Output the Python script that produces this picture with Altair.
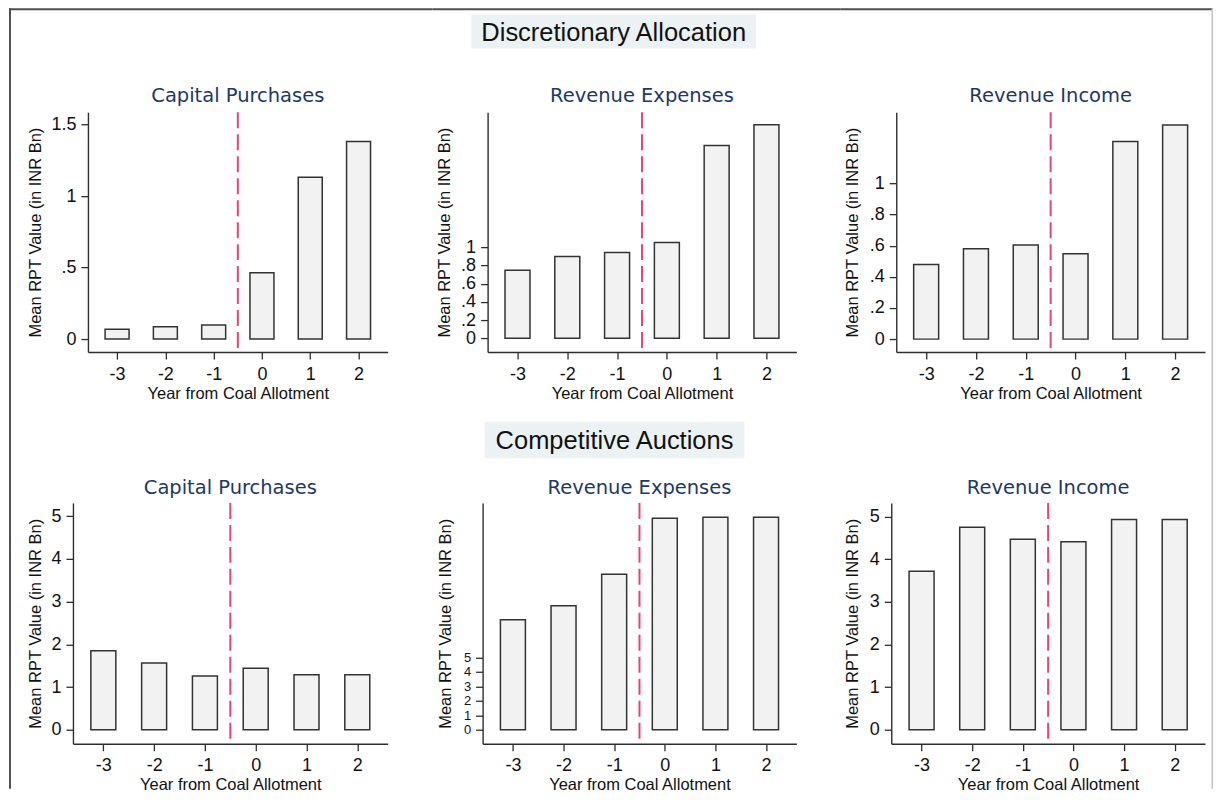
import altair as alt
import pandas as pd

# ---------------- data ----------------
years = [-3, -2, -1, 0, 1, 2]
section_titles = ["Discretionary Allocation", "Competitive Auctions"]
panel_titles = ["Capital Purchases", "Revenue Expenses", "Revenue Income"]
x_title = "Year from Coal Allotment"
y_title = "Mean RPT Value (in INR Bn)"

da_capital = [0.068, 0.086, 0.098, 0.463, 1.132, 1.381]
da_rev_exp = [0.75, 0.90, 0.945, 1.055, 2.12, 2.35]
da_rev_inc = [0.48, 0.58, 0.605, 0.548, 1.27, 1.376]
ca_capital = [1.85, 1.56, 1.26, 1.44, 1.29, 1.29]
ca_rev_exp = [7.6, 8.57, 10.76, 14.63, 14.70, 14.70]
ca_rev_inc = [3.72, 4.75, 4.47, 4.41, 4.93, 4.93]

ticks_da_capital = [0, 0.5, 1, 1.5]
ticks_da_rev = [0, 0.2, 0.4, 0.6, 0.8, 1]
ticks_ca = [0, 1, 2, 3, 4, 5]

event_line = [-0.5]

# ---------------- style ----------------
AXC = "#2e2e2e"
BAR_FILL = "#f2f2f2"
BAR_STROKE = "#333333"
DASH = "#e2457a"
TITLE_C = "#1a3966"
HEAD_BG = "#eaf2f3"
BORDER = "#505050"
LIGHT = "#c4c4c4"
WHITE = "#ffffff"
FONT = "Liberation Sans"

LABEL_EXPR = ("slice(toString(datum.value),0,2)=='0.' ? "
              "slice(toString(datum.value),1) : toString(datum.value)")

one = pd.DataFrame({"k": [0]})


def box(x1, x2, y1, y2, color):
    """Filled strip (frame line / layout guide), no stroke."""
    return alt.Chart(one).mark_rect(fill=color, strokeWidth=0).encode(
        x=alt.value(x1), x2=alt.value(x2), y=alt.value(y1), y2=alt.value(y2))


def panel(values, title, yticks, ydom, w, h, ytx, title_y, extras, ylab_size=18):
    df = pd.DataFrame({"year": years, "value": values})
    bars = alt.Chart(df).mark_bar(
        size=round(w * 0.08), fill=BAR_FILL, stroke=BAR_STROKE, strokeWidth=1.5
    ).encode(
        x=alt.X("year:Q",
                scale=alt.Scale(domain=[-3.5, 2.5], nice=False, zero=False),
                axis=alt.Axis(values=years, labelExpr="toString(datum.value)",
                              title=x_title, titleY=41, titleBaseline="middle",
                              labelPadding=6)),
        y=alt.Y("value:Q",
                scale=alt.Scale(domain=ydom, nice=False, zero=False),
                axis=alt.Axis(values=yticks, labelExpr=LABEL_EXPR, title=y_title,
                              titleX=ytx, titleY=h / 2, titleAngle=270,
                              titleBaseline="middle", titleAlign="center",
                              labelPadding=5, labelFontSize=ylab_size)),
        y2=alt.datum(0),
    )
    vline = alt.Chart(pd.DataFrame({"x": event_line})).mark_rule(
        color=DASH, strokeWidth=2, strokeDash=[16, 6]
    ).encode(x="x:Q", y=alt.value(0), y2=alt.value(h))
    ttl = alt.Chart(one).mark_text(
        text=title, font="DejaVu Sans", fontSize=19.5, color=TITLE_C,
        align="center", baseline="middle"
    ).encode(x=alt.value(w / 2), y=alt.value(title_y))
    layers = list(extras) + [bars, vline, ttl]
    return alt.layer(*layers).properties(width=w, height=h)


def header(text, x1, x2, y1, y2):
    bg = box(x1, x2, y1, y2, HEAD_BG)
    txt = alt.Chart(one).mark_text(
        text=text, font=FONT, fontSize=25.5, color="#111111",
        align="center", baseline="middle"
    ).encode(x=alt.value((x1 + x2) / 2), y=alt.value((y1 + y2) / 2 + 1))
    return [bg, txt]


def spacer():
    return box(0, 1, 0, 1, WHITE).properties(width=1, height=1)


H1, H2 = 240, 241
TOP = -104      # top frame line (row 1), relative to the plot area
BOT1 = 303      # lower extent of row 1
TOP2 = -88      # upper extent of row 2
BOT2 = 286      # lower extent of row 2
R1, R2 = 345, 353

# ---- row 1 (Discretionary Allocation) ----
p1 = panel(da_capital, panel_titles[0], ticks_da_capital, [-0.091, 1.586], 300, H1, -52, -16,
           [box(-79, R1, TOP, TOP + 2, BORDER), box(-79, -77, TOP, BOT1, BORDER)])
p2 = panel(da_rev_exp, panel_titles[1], ticks_da_rev, [-0.151, 2.487], 309, H1, -43, -16,
           [box(-55, R2, TOP, TOP + 2, BORDER), box(0, 300, BOT1 - 1, BOT1, WHITE)]
           + header(section_titles[0], -16.3, 268.7, -97.7, -63.7))
p3 = panel(da_rev_inc, panel_titles[2], ticks_da_rev, [-0.083, 1.458], 309, H1, -44, -16,
           [box(-56, 317, TOP, TOP + 2, BORDER), box(315.5, 317, TOP, BOT1, LIGHT)])

# ---- row 2 (Competitive Auctions) ----
p4 = panel(ca_capital, panel_titles[0], ticks_ca, [-0.328, 5.312], 315, H2, -37.5, -14.7,
           [box(-64, R1, TOP2, TOP2 + 1, WHITE), box(-64, -62, TOP2, BOT2, BORDER)])
p5 = panel(ca_rev_exp, panel_titles[1], ticks_ca, [-0.967, 15.69], 314, H2, -37.5, -14.7,
           [box(-65, R2, TOP2, TOP2 + 1, WHITE)]
           + header(section_titles[1], 2, 262, -81.3, -44.7),
           ylab_size=13)
p6 = panel(ca_rev_inc, panel_titles[2], ticks_ca, [-0.328, 5.32], 314, H2, -39, -14.7,
           [box(-56, 322, TOP2, TOP2 + 1, WHITE), box(320.5, 322, TOP2, BOT2, LIGHT)])

chart = alt.concat(
    spacer(), p1, p2, p3, spacer(), p4, p5, p6,
    columns=4, spacing=0, align="none", bounds="full"
).properties(
    padding=0, background="#ffffff"
).configure_view(strokeWidth=0).configure_axis(
    grid=False,
    labelFont=FONT, labelFontSize=18, labelColor="#111111",
    labelOverlap=False, labelFlush=False,
    tickSize=7, tickColor=AXC, tickWidth=1.3,
    domainColor=AXC, domainWidth=1.4,
    titleFont=FONT, titleFontSize=16.5, titleFontWeight="normal", titleColor="#111111",
)

chart.save("out.html", embed_options={"renderer": "svg", "actions": False})
